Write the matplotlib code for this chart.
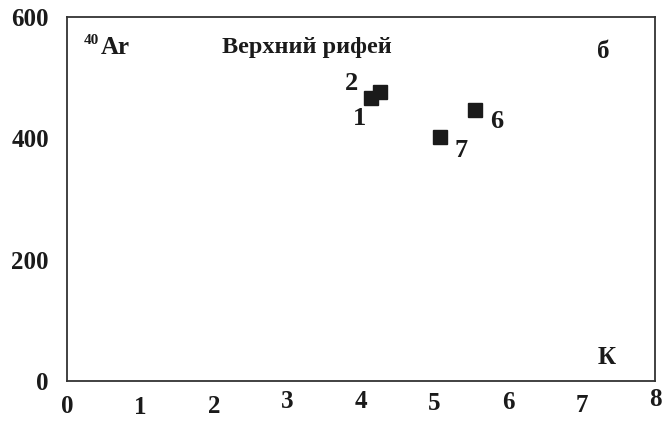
import matplotlib
matplotlib.use("Agg")
import matplotlib.pyplot as plt
import matplotlib.transforms as mtransforms

# data
k_values = [4.14, 4.26, 5.55, 5.07]
ar_values = [467, 476, 447, 402]
point_labels = ["1", "2", "6", "7"]
x_ticks = [0, 1, 2, 3, 4, 5, 6, 7, 8]
y_ticks = [0, 200, 400, 600]

FONT = "Liberation Serif"
INK = "#1a1a1a"
W, H = 668, 421
fig = plt.figure(figsize=(W / 100, H / 100), dpi=100)
ax = fig.add_axes([67 / W, 1 - 381 / H, (655 - 67) / W, (381 - 17) / H])

ax.plot(k_values, ar_values, linestyle="none", marker="s", markersize=10,
        color=INK, markeredgecolor=INK)

label_offsets = {"1": (-12, -21), "2": (-29, 9), "6": (22, -12), "7": (21, -13)}
for x, y, lab in zip(k_values, ar_values, point_labels):
    dx, dy = label_offsets[lab]
    ax.annotate(lab, (x, y), xytext=(dx, dy), textcoords="offset pixels",
                ha="center", va="center", fontsize=19, fontweight="bold",
                family=FONT, color=INK)

ax.set_xlim(0, 8)
ax.set_ylim(0, 600)
ax.set_xticks(x_ticks)
ax.set_yticks(y_ticks)
ax.set_xticklabels([str(t) for t in x_ticks])
ax.set_yticklabels([str(t) for t in y_ticks])
ax.tick_params(length=0, labelsize=18, colors=INK)
ax.tick_params(axis="x", pad=7)
ax.tick_params(axis="y", pad=13)
for lbl in ax.get_xticklabels() + ax.get_yticklabels():
    lbl.set_family(FONT)
    lbl.set_fontweight("bold")

# slight vertical jitter of x tick labels as in the scanned original
x_label_shift = [-4, -5, -4, 1, 1, -1, 0, -3, 3]
for lbl, s in zip(ax.get_xticklabels(), x_label_shift):
    lbl.set_transform(lbl.get_transform() +
                      mtransforms.ScaledTranslation(0, s / 100, fig.dpi_scale_trans))

for sp in ax.spines.values():
    sp.set_linewidth(1.3)
    sp.set_color("#333333")

def px(x, y):
    return ((x - 67) / (655 - 67), (381 - y) / (381 - 17))

ax.text(*px(99, 40), "40", transform=ax.transAxes, ha="right", va="center",
        fontsize=11, fontweight="bold", family=FONT, color=INK)
ax.text(*px(101, 47), "Ar", transform=ax.transAxes, ha="left", va="center",
        fontsize=18, fontweight="bold", family=FONT, color=INK)
ax.text(*px(222, 48), "Верхний рифей", transform=ax.transAxes, ha="left",
        va="center", fontsize=17.5, fontweight="bold", family=FONT, color=INK)
ax.text(*px(603, 52), "б", transform=ax.transAxes, ha="center",
        va="center", fontsize=18, fontweight="bold", family=FONT, color=INK)
ax.text(*px(607, 358), "К", transform=ax.transAxes, ha="center",
        va="center", fontsize=18, fontweight="bold", family=FONT, color=INK)

fig.savefig("out.png", dpi=100)
